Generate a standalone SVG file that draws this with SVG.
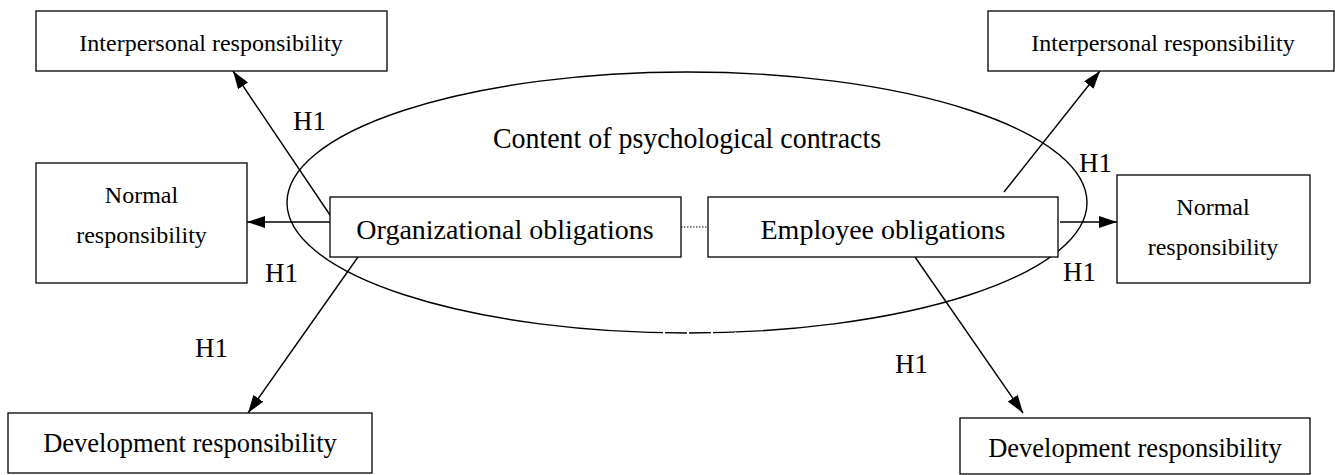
<svg xmlns="http://www.w3.org/2000/svg" width="1335" height="475" viewBox="0 0 1335 475">
<style>
.box{fill:#fff;stroke:#000;stroke-width:1.3}
.t{font-family:"Liberation Serif","Times New Roman",serif;fill:#000;text-anchor:middle}
.h{font-family:"Liberation Serif","Times New Roman",serif;fill:#000;font-size:27px}
.c{stroke:#000;stroke-width:1.4;fill:none}
</style>
<defs>
<marker id="ah" markerUnits="userSpaceOnUse" markerWidth="18" markerHeight="12" refX="18" refY="6" orient="auto">
<path d="M0,0 L18,6 L0,12 z" fill="#000"/>
</marker>
</defs>
<rect width="1335" height="475" fill="#fff"/>
<g id="ellipse">
<ellipse cx="687" cy="202.5" rx="400" ry="130.5" fill="none" stroke="#000" stroke-width="1.4"/>
<line x1="663" y1="333" x2="736" y2="333" stroke="#fff" stroke-width="2" stroke-dasharray="2 22"/>
<text class="t" x="687" y="148" font-size="29" textLength="388" lengthAdjust="spacingAndGlyphs">Content of psychological contracts</text>
</g>
<g id="connectors">
<line class="c" x1="330" y1="215" x2="233" y2="71" marker-end="url(#ah)"/>
<line class="c" x1="330" y1="222" x2="247" y2="222" marker-end="url(#ah)"/>
<line class="c" x1="358" y1="257" x2="248" y2="413" marker-end="url(#ah)"/>
<line class="c" x1="1004" y1="192" x2="1100" y2="71" marker-end="url(#ah)"/>
<line class="c" x1="1060" y1="222" x2="1117" y2="222" marker-end="url(#ah)"/>
<line class="c" x1="915" y1="257" x2="1023" y2="413" marker-end="url(#ah)"/>
<line x1="681" y1="227" x2="708" y2="227" stroke="#000" stroke-width="1.2" stroke-dasharray="1.5 1.5"/>
<text class="h" x="293" y="130">H1</text>
<text class="h" x="265" y="282">H1</text>
<text class="h" x="195" y="357">H1</text>
<text class="h" x="1079" y="172">H1</text>
<text class="h" x="1063" y="281">H1</text>
<text class="h" x="895" y="373">H1</text>
</g>
<g id="org">
<rect class="box" x="330" y="197" width="351" height="60"/>
<text class="t" x="505" y="239" font-size="28">Organizational obligations</text>
</g>
<g id="emp">
<rect class="box" x="708" y="197" width="350" height="60"/>
<text class="t" x="883" y="239" font-size="28">Employee obligations</text>
</g>
<g id="ip-left">
<rect class="box" x="36" y="11" width="351" height="60"/>
<text class="t" x="211" y="51" font-size="24">Interpersonal responsibility</text>
</g>
<g id="normal-left">
<rect class="box" x="36" y="163" width="211" height="120"/>
<text class="t" x="141.5" y="203" font-size="24">Normal</text>
<text class="t" x="141.5" y="243" font-size="24">responsibility</text>
</g>
<g id="dev-left">
<rect class="box" x="8" y="413" width="364" height="60"/>
<text class="t" x="190" y="452" font-size="26.5">Development responsibility</text>
</g>
<g id="ip-right">
<rect class="box" x="988" y="11" width="346" height="60"/>
<text class="t" x="1163" y="51" font-size="24">Interpersonal responsibility</text>
</g>
<g id="normal-right">
<rect class="box" x="1117" y="175" width="193" height="108"/>
<text class="t" x="1213" y="215" font-size="24">Normal</text>
<text class="t" x="1213" y="255" font-size="24">responsibility</text>
</g>
<g id="dev-right">
<rect class="box" x="960" y="418" width="350" height="56"/>
<text class="t" x="1135" y="457" font-size="26.5">Development responsibility</text>
</g>
</svg>
